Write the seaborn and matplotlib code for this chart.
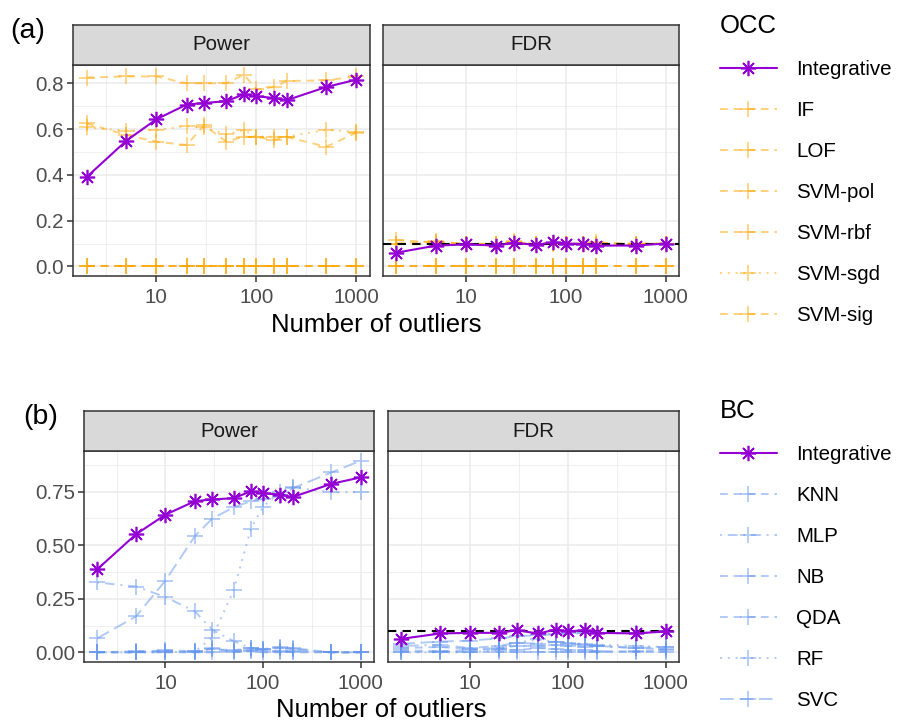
import numpy as np
import pandas as pd
import matplotlib
matplotlib.use("Agg")
import matplotlib.pyplot as plt
import seaborn as sns
from matplotlib.lines import Line2D
from matplotlib.ticker import FixedLocator, FixedFormatter

# ---------------- data ----------------
n_outliers = [2, 5, 10, 20, 30, 50, 75, 100, 150, 200, 500, 1000]

occ_methods = ["Integrative", "IF", "LOF", "SVM-pol", "SVM-rbf", "SVM-sgd", "SVM-sig"]
occ_power = {
    "Integrative": [0.390, 0.549, 0.643, 0.707, 0.714, 0.722, 0.752, 0.743, 0.736, 0.726, 0.784, 0.816],
    "IF":          [0.825, 0.830, 0.830, 0.800, 0.800, 0.800, 0.838, 0.773, 0.784, 0.810, 0.813, 0.830],
    "LOF":         [0.625, 0.574, 0.545, 0.530, 0.617, 0.545, 0.567, 0.565, 0.552, 0.565, 0.523, 0.585],
    "SVM-pol":     [0.0] * 12,
    "SVM-rbf":     [0.0] * 12,
    "SVM-sgd":     [0.607, 0.593, 0.596, 0.613, 0.607, 0.577, 0.596, 0.567, 0.567, 0.567, 0.597, 0.588],
    "SVM-sig":     [0.0] * 12,
}
occ_fdr = {
    "Integrative": [0.060, 0.091, 0.096, 0.091, 0.103, 0.094, 0.105, 0.100, 0.098, 0.091, 0.091, 0.100],
    "IF":          [0.115, 0.105, 0.100, 0.098, 0.105, 0.100, 0.102, 0.100, 0.100, 0.105, 0.097, 0.100],
    "LOF":         [0.100, 0.110, 0.097, 0.100, 0.100, 0.096, 0.100, 0.100, 0.097, 0.100, 0.100, 0.100],
    "SVM-pol":     [0.0] * 12,
    "SVM-rbf":     [0.0] * 12,
    "SVM-sgd":     [0.100, 0.100, 0.100, 0.096, 0.110, 0.100, 0.104, 0.100, 0.100, 0.097, 0.100, 0.100],
    "SVM-sig":     [0.0] * 12,
}

bc_methods = ["Integrative", "KNN", "MLP", "NB", "QDA", "RF", "SVC"]
bc_power = {
    "Integrative": [0.387, 0.551, 0.642, 0.705, 0.713, 0.719, 0.751, 0.742, 0.736, 0.724, 0.786, 0.816],
    "KNN":         [0.000, 0.000, 0.010, 0.005, 0.015, 0.010, 0.020, 0.015, 0.025, 0.020, 0.000, 0.000],
    "MLP":         [0.326, 0.307, 0.258, 0.191, 0.106, 0.052, 0.020, 0.015, 0.020, 0.015, 0.000, 0.000],
    "NB":          [0.000, 0.005, 0.005, 0.000, 0.000, 0.005, 0.005, 0.000, 0.000, 0.005, 0.000, 0.000],
    "QDA":         [0.000, 0.000, 0.000, 0.000, 0.020, 0.000, 0.010, 0.010, 0.005, 0.000, 0.000, 0.000],
    "RF":          [0.000, 0.000, 0.000, 0.005, 0.068, 0.290, 0.577, 0.680, 0.750, 0.770, 0.747, 0.747],
    "SVC":         [0.065, 0.168, 0.335, 0.542, 0.623, 0.677, 0.705, 0.716, 0.727, 0.765, 0.839, 0.894],
}
bc_fdr = {
    "Integrative": [0.063, 0.088, 0.091, 0.091, 0.103, 0.088, 0.106, 0.098, 0.103, 0.091, 0.088, 0.098],
    "KNN":         [0.020, 0.025, 0.015, 0.020, 0.030, 0.030, 0.035, 0.030, 0.025, 0.030, 0.020, 0.015],
    "MLP":         [0.030, 0.035, 0.020, 0.030, 0.045, 0.040, 0.050, 0.040, 0.035, 0.030, 0.020, 0.025],
    "NB":          [0.0] * 12,
    "QDA":         [0.010, 0.005, 0.010, 0.015, 0.010, 0.020, 0.015, 0.010, 0.010, 0.005, 0.005, 0.010],
    "RF":          [0.000, 0.000, 0.000, 0.010, 0.045, 0.060, 0.050, 0.045, 0.040, 0.035, 0.030, 0.025],
    "SVC":         [0.040, 0.050, 0.055, 0.065, 0.075, 0.080, 0.085, 0.088, 0.090, 0.090, 0.090, 0.095],
}

facet_titles = ["Power", "FDR"]
target_fdr = 0.1
xtick_vals = [10, 100, 1000]
xtick_labels = ["10", "100", "1000"]

# ---------------- styles ----------------
PURPLE = "#9400D3"
ORANGE = "#FFA500"
BLUE = "#6495ED"

occ_ls = {"Integrative": "-", "IF": (0, (4, 3)), "LOF": (0, (4, 3)), "SVM-pol": (0, (4, 3)),
          "SVM-rbf": (0, (4, 3)), "SVM-sgd": (0, (1, 3)), "SVM-sig": (0, (4, 3))}
bc_ls = {"Integrative": "-", "KNN": (0, (4, 3)), "MLP": (0, (1, 3, 5, 3)), "NB": (0, (4, 3)),
         "QDA": (0, (4, 3)), "RF": (0, (1, 3)), "SVC": (0, (7, 3))}

sns.set_theme(style="white")
plt.rcParams["font.family"] = ["Liberation Sans", "DejaVu Sans"]

W, H = 898, 721
fig = plt.figure(figsize=(W / 100, H / 100), dpi=100)


def add_box(x0, x1, y0, y1):
    return fig.add_axes([x0 / W, 1 - y1 / H, (x1 - x0) / W, (y1 - y0) / H])


TICK_FS = 14.8
TITLE_FS = 18.5
EDGE = "#333333"


def style_panel(ax, ylim, yticks, yticklabels, yminor, show_y):
    ax.set_xscale("log")
    ax.set_xlim(10 ** 0.166, 10 ** 3.135)
    ax.set_ylim(*ylim)
    ax.xaxis.set_major_locator(FixedLocator(xtick_vals))
    ax.xaxis.set_major_formatter(FixedFormatter(xtick_labels))
    ax.xaxis.set_minor_locator(FixedLocator([10 ** 0.5, 10 ** 1.5, 10 ** 2.5]))
    ax.yaxis.set_major_locator(FixedLocator(yticks))
    ax.yaxis.set_major_formatter(FixedFormatter(yticklabels))
    ax.yaxis.set_minor_locator(FixedLocator(yminor))
    ax.grid(which="major", color="#EBEBEB", linewidth=1.1)
    ax.grid(which="minor", color="#EBEBEB", linewidth=0.55)
    ax.set_axisbelow(True)
    ax.tick_params(which="major", direction="out", length=4.3, width=1.1, color=EDGE,
                   labelcolor="#4D4D4D", labelsize=TICK_FS, pad=2,
                   bottom=True, left=show_y, labelleft=show_y)
    ax.tick_params(axis="x", which="major", pad=4.5)
    ax.tick_params(which="minor", length=0)
    for s in ax.spines.values():
        s.set_color(EDGE)
        s.set_linewidth(1.1)
    ax.set_xlabel("")
    ax.set_ylabel("")
    ax.set_facecolor("white")


def add_strip(x0, x1, y0, y1, text):
    s = add_box(x0, x1, y0, y1)
    s.set_facecolor("#D9D9D9")
    s.set_xticks([])
    s.set_yticks([])
    for sp in s.spines.values():
        sp.set_color(EDGE)
        sp.set_linewidth(1.1)
    s.text(0.5, 0.5, text, ha="center", va="center", fontsize=TICK_FS, color="#1A1A1A",
           transform=s.transAxes)


def draw_methods(ax, methods, values, ls_map, base_color):
    order = [m for m in methods if m != "Integrative"] + ["Integrative"]
    for m in order:
        if m == "Integrative":
            sns.lineplot(x=n_outliers, y=values[m], ax=ax, color=PURPLE, linestyle="-",
                         linewidth=1.5, marker=(8, 2, 0), markersize=11,
                         markeredgecolor=PURPLE, markeredgewidth=1.2, legend=False, zorder=5)
        else:
            sns.lineplot(x=n_outliers, y=values[m], ax=ax, color=base_color, linestyle=ls_map[m],
                         linewidth=1.4, marker="+", markersize=11, markeredgecolor=base_color,
                         markeredgewidth=1.3, alpha=0.5, legend=False, zorder=3)


def make_legend(title, methods, ls_map, base_color, top_px):
    handles = []
    for m in methods:
        if m == "Integrative":
            handles.append(Line2D([], [], color=PURPLE, linestyle="-", linewidth=1.5,
                                  marker=(8, 2, 0), markersize=11, markeredgewidth=1.2))
        else:
            handles.append(Line2D([], [], color=base_color, linestyle=ls_map[m], linewidth=1.4,
                                  marker="+", markersize=11, markeredgewidth=1.3, alpha=0.5))
    leg = fig.legend(handles, methods, title=title, loc="upper left",
                     bbox_to_anchor=(720 / W, 1 - top_px / H), frameon=False,
                     borderpad=0, borderaxespad=0,
                     fontsize=TICK_FS, title_fontsize=TITLE_FS, handlelength=2.75,
                     handletextpad=0.97, labelspacing=1.07, numpoints=1, alignment="left",
                     labelcolor="black")
    leg.get_title().set_color("black")
    return leg


# ---------------- panel (a) ----------------
top_y0, top_y1 = 65, 276
ax_a1 = add_box(73, 370, top_y0, top_y1)
ax_a2 = add_box(383, 679, top_y0, top_y1)
draw_methods(ax_a1, occ_methods, occ_power, occ_ls, ORANGE)
draw_methods(ax_a2, occ_methods, occ_fdr, occ_ls, ORANGE)
ax_a2.axhline(target_fdr, color="black", linestyle=(0, (4, 3)), linewidth=1.5, zorder=4)
for ax, show in [(ax_a1, True), (ax_a2, False)]:
    style_panel(ax, (-0.042, 0.88), [0, 0.2, 0.4, 0.6, 0.8],
                ["0.0", "0.2", "0.4", "0.6", "0.8"], [0.1, 0.3, 0.5, 0.7], show)
add_strip(73, 370, 25, 65, facet_titles[0])
add_strip(383, 679, 25, 65, facet_titles[1])
fig.text(376 / W, 1 - 325 / H, "Number of outliers", ha="center", va="center",
         fontsize=TITLE_FS, color="black")
fig.text(10 / W, 1 - 31 / H, "(a)", ha="left", va="center", fontsize=20.5, color="black")
make_legend("OCC", occ_methods, occ_ls, ORANGE, 14)

# ---------------- panel (b) ----------------
bot_y0, bot_y1 = 451, 662
ax_b1 = add_box(84, 374, bot_y0, bot_y1)
ax_b2 = add_box(388, 679, bot_y0, bot_y1)
draw_methods(ax_b1, bc_methods, bc_power, bc_ls, BLUE)
draw_methods(ax_b2, bc_methods, bc_fdr, bc_ls, BLUE)
ax_b2.axhline(target_fdr, color="black", linestyle=(0, (4, 3)), linewidth=1.5, zorder=4)
for ax, show in [(ax_b1, True), (ax_b2, False)]:
    style_panel(ax, (-0.045, 0.939), [0, 0.25, 0.5, 0.75],
                ["0.00", "0.25", "0.50", "0.75"], [0.125, 0.375, 0.625, 0.875], show)
add_strip(84, 374, 411, 451, facet_titles[0])
add_strip(388, 679, 411, 451, facet_titles[1])
fig.text(381 / W, 1 - 710 / H, "Number of outliers", ha="center", va="center",
         fontsize=TITLE_FS, color="black")
fig.text(23 / W, 1 - 417 / H, "(b)", ha="left", va="center", fontsize=20.5, color="black")
make_legend("BC", bc_methods, bc_ls, BLUE, 399)

fig.savefig("out.png", dpi=100, facecolor="white")
